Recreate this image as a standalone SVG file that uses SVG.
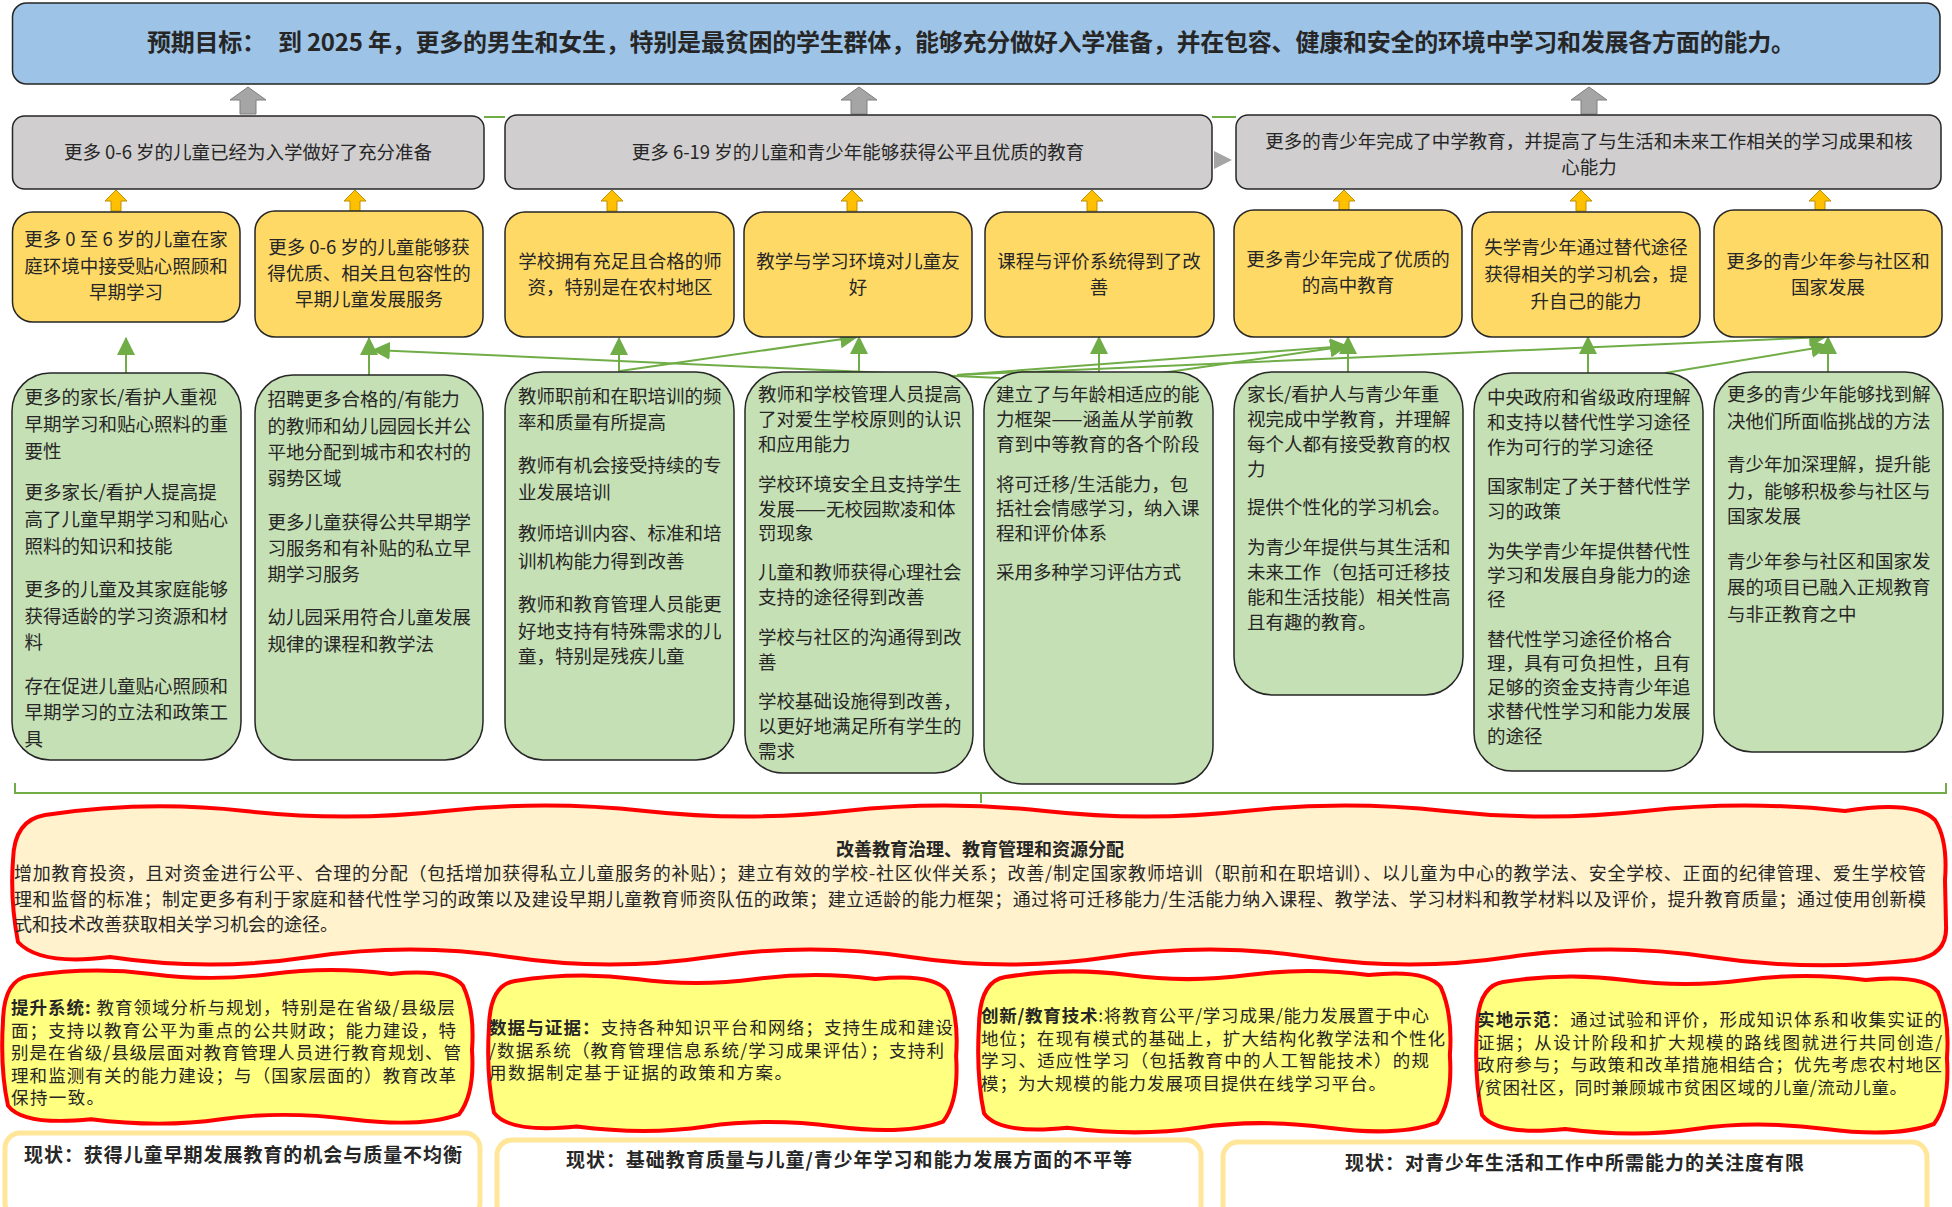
<svg xmlns="http://www.w3.org/2000/svg" xmlns:xlink="http://www.w3.org/1999/xlink" width="1952" height="1207" viewBox="0 0 1952 1207">
<style>
text{font-family:"Noto Sans CJK SC","Noto Sans",sans-serif;fill:#262626}
.t{font-size:18.5px}
.s{font-size:18px}
.l{font-size:17.5px}
.m{text-anchor:middle}
.b{font-weight:bold}
.goal{fill:#9DC3E6;stroke:#262626;stroke-width:1.5}
.gray{fill:#D0CECE;stroke:#262626;stroke-width:1.5}
.yel{fill:#FFD966;stroke:#262626;stroke-width:1.5}
.grn{fill:#C5E0B4;stroke:#262626;stroke-width:1.5}
.garrow{fill:#A5A5A5;stroke:#7F7F7F;stroke-width:1}
.oarrow{fill:#FFC000;stroke:#BF9000;stroke-width:1}
.link{stroke:#70AD47;stroke-width:2;fill:none}
.wav{stroke:#FF0000;stroke-width:4;stroke-linejoin:round}
.big{fill:#FFF2CC}
.lem{fill:#FFFF80}
.cur{fill:#FFFFFF;stroke:#FFE699;stroke-width:5}
</style>
<defs>
<marker id="ah" markerUnits="userSpaceOnUse" markerWidth="18" markerHeight="18" viewBox="0 0 16 16" refX="15" refY="8" orient="auto">
<path d="M0,0 L16,8 L0,16 Z" fill="#70AD47"/>
</marker>
<path id="wv" d="M28,4 Q90,-6 150,2 T270,2 T390,2 Q448,-4 462,14 Q474,40 471,80 Q474,125 458,146 Q420,160 350,151 T220,151 T90,151 Q22,158 7,137 Q-1,100 2,50 Q3,8 28,4 Z"/>
</defs>

<g id="goal">
<rect class="goal" x="12.5" y="3" width="1927.5" height="81" rx="14"/>
<text class="b" x="147" y="51" font-size="24" textLength="1648" lengthAdjust="spacing">预期目标：<tspan dx="12">到 2025 年，更多的男生和女生，特别是最贫困的学生群体，能够充分做好入学准备，并在包容、健康和安全的环境中学习和发展各方面的能力。</tspan></text>
</g>

<g id="connectors">
<path class="link" d="M484,117 L505,117 M1212,117 L1236,117"/>
<polygon points="1214,151 1232,160 1214,169" fill="#A5A5A5"/>
<polygon class="garrow" points="248,87 266,100 256,100 256,114 240,114 240,100 230,100"/>
<polygon class="garrow" points="859,87 877,100 867,100 867,114 851,114 851,100 841,100"/>
<polygon class="garrow" points="1589,87 1607,100 1597,100 1597,114 1581,114 1581,100 1571,100"/>
<g>
<polygon class="oarrow" points="116,190 127,201 121,201 121,211 111,211 111,201 105,201"/>
<polygon class="oarrow" points="355,190 366,201 360,201 360,211 350,211 350,201 344,201"/>
<polygon class="oarrow" points="612,190 623,201 617,201 617,211 607,211 607,201 601,201"/>
<polygon class="oarrow" points="852,190 863,201 857,201 857,211 847,211 847,201 841,201"/>
<polygon class="oarrow" points="1092,190 1103,201 1097,201 1097,211 1087,211 1087,201 1081,201"/>
<polygon class="oarrow" points="1344,190 1355,201 1349,201 1349,211 1339,211 1339,201 1333,201"/>
<polygon class="oarrow" points="1581,190 1592,201 1586,201 1586,211 1576,211 1576,201 1570,201"/>
<polygon class="oarrow" points="1820,190 1831,201 1825,201 1825,211 1815,211 1815,201 1809,201"/>
</g>
<g marker-end="url(#ah)">
<line class="link" x1="126" y1="373" x2="126" y2="338"/>
<line class="link" x1="369" y1="375" x2="369" y2="338"/>
<line class="link" x1="619" y1="372" x2="619" y2="338"/>
<line class="link" x1="859" y1="372" x2="859" y2="337"/>
<line class="link" x1="1099" y1="372" x2="1099" y2="337"/>
<line class="link" x1="1348" y1="372" x2="1348" y2="337"/>
<line class="link" x1="1588" y1="373" x2="1588" y2="337"/>
<line class="link" x1="1828" y1="372" x2="1828" y2="337"/>
<line class="link" x1="620" y1="371" x2="857" y2="337"/>
<line class="link" x1="1000" y1="378" x2="373" y2="350"/>
<line class="link" x1="957" y1="375" x2="1347" y2="346"/>
<line class="link" x1="1099" y1="382" x2="1347" y2="346"/>
<line class="link" x1="957" y1="375" x2="1826" y2="337"/>
<line class="link" x1="1665" y1="373" x2="1828" y2="346"/>
</g>
<path class="link" stroke-width="1.5" d="M15,783 L15,793 L1946,793 L1946,783 M981,793 L981,803"/>
</g>

<g id="outcome-1">
<rect class="gray" x="12.5" y="116" width="471.5" height="73" rx="12"/>
<text class="t m" x="248" y="159">更多 0-6 岁的儿童已经为入学做好了充分准备</text>
</g>
<g id="outcome-2">
<rect class="gray" x="505" y="115" width="707" height="74" rx="12"/>
<text class="t m" x="858" y="159">更多 6-19 岁的儿童和青少年能够获得公平且优质的教育</text>
</g>
<g id="outcome-3">
<rect class="gray" x="1236" y="115" width="705" height="74" rx="12"/>
<text class="t m" x="1589" y="148">更多的青少年完成了中学教育，并提高了与生活和未来工作相关的学习成果和核</text>
<text class="t m" x="1589" y="174">心能力</text>
</g>

<g id="output-1">
<rect class="yel" x="12.5" y="212" width="227.5" height="110" rx="20"/>
<text class="t m" x="126" y="246">更多 0 至 6 岁的儿童在家</text>
<text class="t m" x="126" y="273">庭环境中接受贴心照顾和</text>
<text class="t m" x="126" y="299">早期学习</text>
</g>
<g id="output-2">
<rect class="yel" x="255" y="211" width="228" height="126" rx="20"/>
<text class="t m" x="369" y="254">更多 0-6 岁的儿童能够获</text>
<text class="t m" x="369" y="280">得优质、相关且包容性的</text>
<text class="t m" x="369" y="306">早期儿童发展服务</text>
</g>
<g id="output-3">
<rect class="yel" x="505" y="212" width="229" height="125" rx="20"/>
<text class="t m" x="620" y="268">学校拥有充足且合格的师</text>
<text class="t m" x="620" y="294">资，特别是在农村地区</text>
</g>
<g id="output-4">
<rect class="yel" x="744" y="212" width="228" height="125" rx="20"/>
<text class="t m" x="858" y="268">教学与学习环境对儿童友</text>
<text class="t m" x="858" y="294">好</text>
</g>
<g id="output-5">
<rect class="yel" x="985" y="212" width="229" height="125" rx="20"/>
<text class="t m" x="1099" y="268">课程与评价系统得到了改</text>
<text class="t m" x="1099" y="294">善</text>
</g>
<g id="output-6">
<rect class="yel" x="1234" y="210" width="228" height="127" rx="20"/>
<text class="t m" x="1348" y="266">更多青少年完成了优质的</text>
<text class="t m" x="1348" y="292">的高中教育</text>
</g>
<g id="output-7">
<rect class="yel" x="1472" y="212" width="228" height="125" rx="20"/>
<text class="t m" x="1586" y="254">失学青少年通过替代途径</text>
<text class="t m" x="1586" y="281">获得相关的学习机会，提</text>
<text class="t m" x="1586" y="308">升自己的能力</text>
</g>
<g id="output-8">
<rect class="yel" x="1714" y="210" width="228" height="127" rx="20"/>
<text class="t m" x="1828" y="268">更多的青少年参与社区和</text>
<text class="t m" x="1828" y="294">国家发展</text>
</g>

<g id="results-1">
<rect class="grn" x="12" y="373" width="229" height="387" rx="38"/>
<g class="t">
<text x="24.5" y="404">更多的家长/看护人重视</text>
<text x="24.5" y="431">早期学习和贴心照料的重</text>
<text x="24.5" y="458">要性</text>
<text x="24.5" y="499">更多家长/看护人提高提</text>
<text x="24.5" y="526">高了儿童早期学习和贴心</text>
<text x="24.5" y="553">照料的知识和技能</text>
<text x="24.5" y="596">更多的儿童及其家庭能够</text>
<text x="24.5" y="623">获得适龄的学习资源和材</text>
<text x="24.5" y="649">料</text>
<text x="24.5" y="693">存在促进儿童贴心照顾和</text>
<text x="24.5" y="719">早期学习的立法和政策工</text>
<text x="24.5" y="746">具</text>
</g>
</g>
<g id="results-2">
<rect class="grn" x="255" y="375" width="228" height="385" rx="38"/>
<g class="t">
<text x="267.5" y="406">招聘更多合格的/有能力</text>
<text x="267.5" y="433">的教师和幼儿园园长并公</text>
<text x="267.5" y="459">平地分配到城市和农村的</text>
<text x="267.5" y="485">弱势区域</text>
<text x="267.5" y="529">更多儿童获得公共早期学</text>
<text x="267.5" y="555">习服务和有补贴的私立早</text>
<text x="267.5" y="581">期学习服务</text>
<text x="267.5" y="624">幼儿园采用符合儿童发展</text>
<text x="267.5" y="651">规律的课程和教学法</text>
</g>
</g>
<g id="results-3">
<rect class="grn" x="505" y="372" width="229" height="388" rx="38"/>
<g class="t">
<text x="518" y="403">教师职前和在职培训的频</text>
<text x="518" y="429">率和质量有所提高</text>
<text x="518" y="472">教师有机会接受持续的专</text>
<text x="518" y="499">业发展培训</text>
<text x="518" y="540">教师培训内容、标准和培</text>
<text x="518" y="568">训机构能力得到改善</text>
<text x="518" y="611">教师和教育管理人员能更</text>
<text x="518" y="638">好地支持有特殊需求的儿</text>
<text x="518" y="663">童，特别是残疾儿童</text>
</g>
</g>
<g id="results-4">
<rect class="grn" x="745" y="372" width="228" height="401" rx="38"/>
<g class="t">
<text x="758" y="401">教师和学校管理人员提高</text>
<text x="758" y="426">了对爱生学校原则的认识</text>
<text x="758" y="451">和应用能力</text>
<text x="758" y="491">学校环境安全且支持学生</text>
<text x="758" y="516">发展——无校园欺凌和体</text>
<text x="758" y="540">罚现象</text>
<text x="758" y="579">儿童和教师获得心理社会</text>
<text x="758" y="604">支持的途径得到改善</text>
<text x="758" y="644">学校与社区的沟通得到改</text>
<text x="758" y="669">善</text>
<text x="758" y="708">学校基础设施得到改善，</text>
<text x="758" y="733">以更好地满足所有学生的</text>
<text x="758" y="758">需求</text>
</g>
</g>
<g id="results-5">
<rect class="grn" x="984" y="372" width="229" height="412" rx="38"/>
<g class="t">
<text x="996" y="401">建立了与年龄相适应的能</text>
<text x="996" y="426">力框架——涵盖从学前教</text>
<text x="996" y="451">育到中等教育的各个阶段</text>
<text x="996" y="491">将可迁移/生活能力，包</text>
<text x="996" y="515">括社会情感学习，纳入课</text>
<text x="996" y="540">程和评价体系</text>
<text x="996" y="579">采用多种学习评估方式</text>
</g>
</g>
<g id="results-6">
<rect class="grn" x="1234" y="372" width="229" height="323" rx="38"/>
<g class="t">
<text x="1247" y="401">家长/看护人与青少年重</text>
<text x="1247" y="426">视完成中学教育，并理解</text>
<text x="1247" y="451">每个人都有接受教育的权</text>
<text x="1247" y="476">力</text>
<text x="1247" y="514">提供个性化的学习机会。</text>
<text x="1247" y="554">为青少年提供与其生活和</text>
<text x="1247" y="579">未来工作（包括可迁移技</text>
<text x="1247" y="604">能和生活技能）相关性高</text>
<text x="1247" y="629">且有趣的教育。</text>
</g>
</g>
<g id="results-7">
<rect class="grn" x="1474" y="373" width="229" height="398" rx="38"/>
<g class="t">
<text x="1487" y="404">中央政府和省级政府理解</text>
<text x="1487" y="429">和支持以替代性学习途径</text>
<text x="1487" y="454">作为可行的学习途径</text>
<text x="1487" y="493">国家制定了关于替代性学</text>
<text x="1487" y="518">习的政策</text>
<text x="1487" y="558">为失学青少年提供替代性</text>
<text x="1487" y="582">学习和发展自身能力的途</text>
<text x="1487" y="606">径</text>
<text x="1487" y="646">替代性学习途径价格合</text>
<text x="1487" y="670">理，具有可负担性，且有</text>
<text x="1487" y="694">足够的资金支持青少年追</text>
<text x="1487" y="718">求替代性学习和能力发展</text>
<text x="1487" y="743">的途径</text>
</g>
</g>
<g id="results-8">
<rect class="grn" x="1714" y="372" width="229" height="380" rx="38"/>
<g class="t">
<text x="1727" y="401">更多的青少年能够找到解</text>
<text x="1727" y="428">决他们所面临挑战的方法</text>
<text x="1727" y="471">青少年加深理解，提升能</text>
<text x="1727" y="498">力，能够积极参与社区与</text>
<text x="1727" y="523">国家发展</text>
<text x="1727" y="568">青少年参与社区和国家发</text>
<text x="1727" y="594">展的项目已融入正规教育</text>
<text x="1727" y="621">与非正教育之中</text>
</g>
</g>

<g id="strategy">
<path class="big wav" d="M45,815 Q145,800 245,811 T445,811 T645,811 T845,811 T1045,811 T1245,811 T1445,811 T1645,811 T1845,811 Q1915,800 1935,820 Q1948,840 1945,880 L1946,925 Q1948,955 1915,960 Q1810,972 1710,957 T1510,957 T1310,957 T1110,957 T910,957 T710,957 T510,957 T310,957 T110,957 Q40,966 18,942 Q10,900 13,860 Q14,820 45,815 Z"/>
<text class="s b m" x="980" y="856">改善教育治理、教育管理和资源分配</text>
<text class="s" x="14" y="880" textLength="1912" lengthAdjust="spacing">增加教育投资，且对资金进行公平、合理的分配（包括增加获得私立儿童服务的补贴）；建立有效的学校-社区伙伴关系；改善/制定国家教师培训（职前和在职培训）、以儿童为中心的教学法、安全学校、正面的纪律管理、爱生学校管</text>
<text class="s" x="14" y="906" textLength="1912" lengthAdjust="spacing">理和监督的标准；制定更多有利于家庭和替代性学习的政策以及建设早期儿童教育师资队伍的政策；建立适龄的能力框架；通过将可迁移能力/生活能力纳入课程、教学法、学习材料和教学材料以及评价，提升教育质量；通过使用创新模</text>
<text class="s" x="14" y="931">式和技术改善获取相关学习机会的途径。</text>
</g>

<g id="lever-1">
<use xlink:href="#wv" class="lem wav" transform="translate(1,972) scale(1,0.975)"/>
<g class="l">
<text x="11" y="1014" textLength="444" lengthAdjust="spacing"><tspan class="b">提升系统:</tspan> 教育领域分析与规划，特别是在省级/县级层</text>
<text x="11" y="1036.5" textLength="445" lengthAdjust="spacing">面；支持以教育公平为重点的公共财政；能力建设，特</text>
<text x="11" y="1059" textLength="450" lengthAdjust="spacing">别是在省级/县级层面对教育管理人员进行教育规划、管</text>
<text x="11" y="1081.5" textLength="445" lengthAdjust="spacing">理和监测有关的能力建设；与（国家层面的）教育改革</text>
<text x="11" y="1104" textLength="93" lengthAdjust="spacing">保持一致。</text>
</g>
</g>
<g id="lever-2">
<use xlink:href="#wv" class="lem wav" transform="translate(487,977) scale(0.996,0.99)"/>
<g class="l">
<text x="489" y="1034" textLength="464" lengthAdjust="spacing"><tspan class="b">数据与证据：</tspan>支持各种知识平台和网络；支持生成和建设</text>
<text x="489" y="1056.5" textLength="455" lengthAdjust="spacing">/数据系统（教育管理信息系统/学习成果评估）；支持利</text>
<text x="489" y="1079" textLength="303" lengthAdjust="spacing">用数据制定基于证据的政策和方案。</text>
</g>
</g>
<g id="lever-3">
<use xlink:href="#wv" class="lem wav" transform="translate(977,973) scale(1.004,1.025)"/>
<g class="l">
<text x="981" y="1022" textLength="448" lengthAdjust="spacing"><tspan class="b">创新/教育技术</tspan>:将教育公平/学习成果/能力发展置于中心</text>
<text x="981" y="1044.5" textLength="464" lengthAdjust="spacing">地位；在现有模式的基础上，扩大结构化教学法和个性化</text>
<text x="981" y="1067" textLength="448" lengthAdjust="spacing">学习、适应性学习（包括教育中的人工智能技术）的规</text>
<text x="981" y="1089.5" textLength="405" lengthAdjust="spacing">模；为大规模的能力发展项目提供在线学习平台。</text>
</g>
</g>
<g id="lever-4">
<use xlink:href="#wv" class="lem wav" transform="translate(1475,978) scale(1.002,1)"/>
<g class="l">
<text x="1477" y="1026" textLength="465" lengthAdjust="spacing"><tspan class="b">实地示范</tspan>：通过试验和评价，形成知识体系和收集实证的</text>
<text x="1477" y="1048.5" textLength="465" lengthAdjust="spacing">证据；从设计阶段和扩大规模的路线图就进行共同创造/</text>
<text x="1477" y="1071" textLength="465" lengthAdjust="spacing">政府参与；与政策和改革措施相结合；优先考虑农村地区</text>
<text x="1477" y="1093.5" textLength="430" lengthAdjust="spacing">/贫困社区，同时兼顾城市贫困区域的儿童/流动儿童。</text>
</g>
</g>

<g id="situation-1">
<rect class="cur" x="5" y="1133" width="475" height="85" rx="15"/>
<text class="b" x="24" y="1162" font-size="19" textLength="438" lengthAdjust="spacing">现状：获得儿童早期发展教育的机会与质量不均衡</text>
</g>
<g id="situation-2">
<rect class="cur" x="497" y="1140" width="704" height="80" rx="15"/>
<text class="b" x="566" y="1167" font-size="19" textLength="566" lengthAdjust="spacing">现状：基础教育质量与儿童/青少年学习和能力发展方面的不平等</text>
</g>
<g id="situation-3">
<rect class="cur" x="1223" y="1142" width="704" height="80" rx="15"/>
<text class="b" x="1345" y="1170" font-size="19" textLength="459" lengthAdjust="spacing">现状：对青少年生活和工作中所需能力的关注度有限</text>
</g>
</svg>
